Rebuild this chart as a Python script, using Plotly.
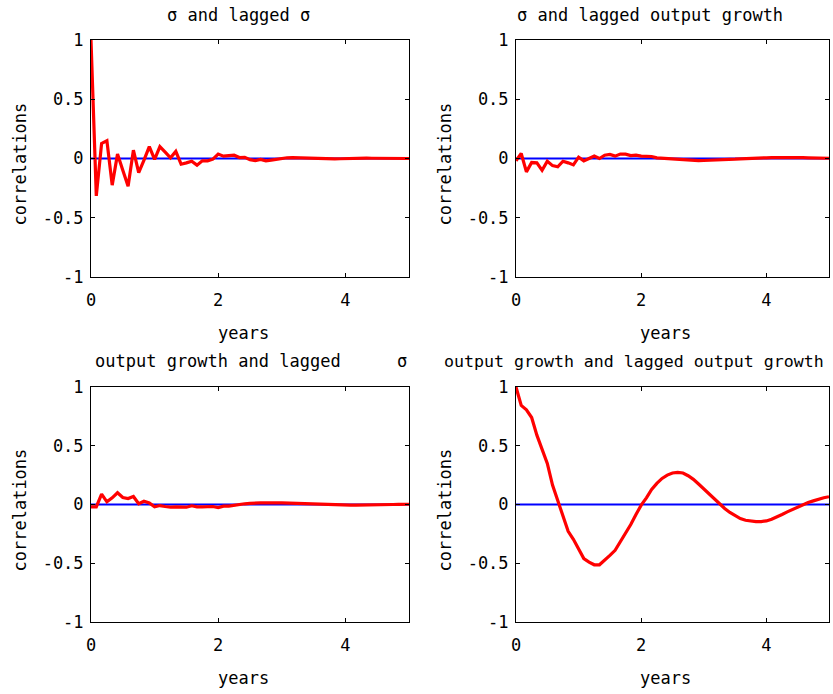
import plotly.graph_objects as go

W, H = 833, 694

# lags in months (0..60), plotted in years
lag_months = list(range(61))

sigma_sigma = [1.0, -0.315, 0.127, 0.15, -0.225, 0.037, -0.1, -0.234, 0.07, -0.12,
               -0.014, 0.1, -0.008, 0.1, 0.054, 0.006, 0.06, -0.048, -0.037, -0.023,
               -0.056, -0.02, -0.02, -0.006, 0.037, 0.02, 0.025, 0.028, 0.008, 0.01,
               -0.01, -0.017, -0.008, -0.02, -0.014, -0.006, -0.003, 0.006, 0.008, 0.006,
               0.008, 0.005, 0.003, 0.0, -0.002, -0.003, -0.003, -0.002, 0.0, 0.002,
               0.003, 0.004, 0.003, 0.002, 0.001, 0.0, 0.0, 0.0, 0.0, 0.0, 0.0]

sigma_growth = [-0.02, 0.042, -0.113, -0.034, -0.037, -0.1, -0.023, -0.06, -0.07, -0.023,
                -0.037, -0.054, 0.011, -0.02, 0.0, 0.02, 0.0, 0.028, 0.034, 0.02,
                0.037, 0.037, 0.025, 0.028, 0.02, 0.017, 0.017, 0.006, 0.003, -0.002,
                -0.006, -0.01, -0.013, -0.015, -0.017, -0.018, -0.017, -0.016, -0.014, -0.012,
                -0.01, -0.008, -0.006, -0.003, 0.0, 0.002, 0.004, 0.005, 0.006, 0.007,
                0.008, 0.008, 0.008, 0.008, 0.008, 0.007, 0.006, 0.005, 0.004, 0.003, 0.002]

growth_sigma = [-0.02, -0.02, 0.088, 0.023, 0.057, 0.1, 0.06, 0.051, 0.068, 0.006,
                0.028, 0.014, -0.02, -0.009, -0.017, -0.023, -0.02, -0.02, -0.023, -0.011,
                -0.02, -0.02, -0.017, -0.017, -0.026, -0.014, -0.014, -0.006, 0.003, 0.006,
                0.009, 0.014, 0.014, 0.014, 0.017, 0.014, 0.014, 0.012, 0.011, 0.01,
                0.009, 0.008, 0.006, 0.004, 0.002, 0.0, -0.002, -0.004, -0.005, -0.006,
                -0.006, -0.006, -0.005, -0.004, -0.003, -0.002, -0.001, 0.0, 0.001, 0.002, 0.002]

growth_growth = [1.0, 0.843, 0.806, 0.74, 0.59, 0.464, 0.35, 0.165, 0.037, -0.09,
                 -0.228, -0.296, -0.376, -0.46, -0.49, -0.513, -0.513, -0.476, -0.433, -0.39,
                 -0.32, -0.248, -0.171, -0.085, -0.006, 0.057, 0.128, 0.18, 0.222, 0.25,
                 0.268, 0.273, 0.268, 0.245, 0.214, 0.174, 0.131, 0.088, 0.043, 0.0,
                 -0.034, -0.068, -0.097, -0.12, -0.134, -0.142, -0.145, -0.145, -0.14, -0.125,
                 -0.108, -0.085, -0.063, -0.043, -0.02, 0.0, 0.017, 0.031, 0.046, 0.057, 0.066]

zero_x = [0, 5]
zero_y = [0, 0]

x_ticks = [0, 2, 4]
x_ticktext = ["0", "2", "4"]
y_ticks = [-1, -0.5, 0, 0.5, 1]
y_ticktext = ["-1", "-0.5", "0", "0.5", "1"]

years = [m / 12 for m in lag_months]

FONT = "DejaVu Sans Mono"
FS = 17

def px(x):
    return x / W

def py(y):
    return 1 - y / H

# panel domains from pixel positions
col_x = [(91, 409), (516, 829)]
row_y = [(40, 277), (387, 622)]

series = [sigma_sigma, sigma_growth, growth_sigma, growth_growth]

fig = go.Figure()
layout = dict(width=W, height=H, margin=dict(l=0, r=0, t=0, b=0, autoexpand=False),
              paper_bgcolor="white", plot_bgcolor="white", showlegend=False,
              font=dict(family=FONT, size=FS, color="black"))

for i, s in enumerate(series):
    r, c = divmod(i, 2)
    xa = "x" if i == 0 else f"x{i+1}"
    ya = "y" if i == 0 else f"y{i+1}"
    fig.add_trace(go.Scatter(x=zero_x, y=zero_y, mode="lines",
                             line=dict(color="#0000FF", width=2.2),
                             xaxis=xa, yaxis=ya, hoverinfo="skip"))
    fig.add_trace(go.Scatter(x=years, y=s, mode="lines",
                             line=dict(color="#FF0000", width=3.2),
                             xaxis=xa, yaxis=ya))
    xk = "xaxis" if i == 0 else f"xaxis{i+1}"
    yk = "yaxis" if i == 0 else f"yaxis{i+1}"
    x0, x1 = col_x[c]
    y0, y1 = row_y[r]
    layout[xk] = dict(domain=[px(x0), px(x1)], range=[0, 5], anchor=ya,
                      tickvals=x_ticks, ticktext=x_ticktext, automargin=False,
                      ticks="inside", ticklen=4, tickcolor="black",
                      showline=True, linecolor="black", linewidth=1, mirror="ticks",
                      showgrid=False, zeroline=False, ticklabelstandoff=8,
                      tickfont=dict(family=FONT, size=FS, color="black"))
    layout[yk] = dict(domain=[py(y1), py(y0)], range=[-1, 1], anchor=xa,
                      tickvals=y_ticks, ticktext=y_ticktext, automargin=False,
                      ticks="inside", ticklen=4, tickcolor="black",
                      showline=True, linecolor="black", linewidth=1, mirror="ticks",
                      showgrid=False, zeroline=False, ticklabelstandoff=3,
                      tickfont=dict(family=FONT, size=FS, color="black"))

ann = []
def text(x, y, t, xanchor="left", angle=0, size=FS):
    ann.append(dict(x=px(x), y=py(y), xref="paper", yref="paper", text=t,
                    showarrow=False, xanchor=xanchor, yanchor="middle", textangle=angle,
                    font=dict(family=FONT, size=size, color="black")))

text(165, 15, "σ and lagged")
text(298, 15, "σ")
text(515, 15, "σ and lagged output growth")
text(93, 361, "output growth and lagged")
text(395, 361, "σ")
text(442, 361, "output growth and lagged output growth", size=16.6)

for c in range(2):
    for r in range(2):
        x0, x1 = col_x[c]
        y0, y1 = row_y[r]
        text((x0 + x1) / 2 - 7, y1 + 56, "years", xanchor="center")
        text(x0 - 72, (y0 + y1) / 2 + 6, "correlations", xanchor="center", angle=-90)

layout["annotations"] = ann
fig.update_layout(**layout)
fig.write_html("out.html", config={"displayModeBar": False},
               post_script="document.body.style.margin='0px';document.body.style.overflow='hidden';")
